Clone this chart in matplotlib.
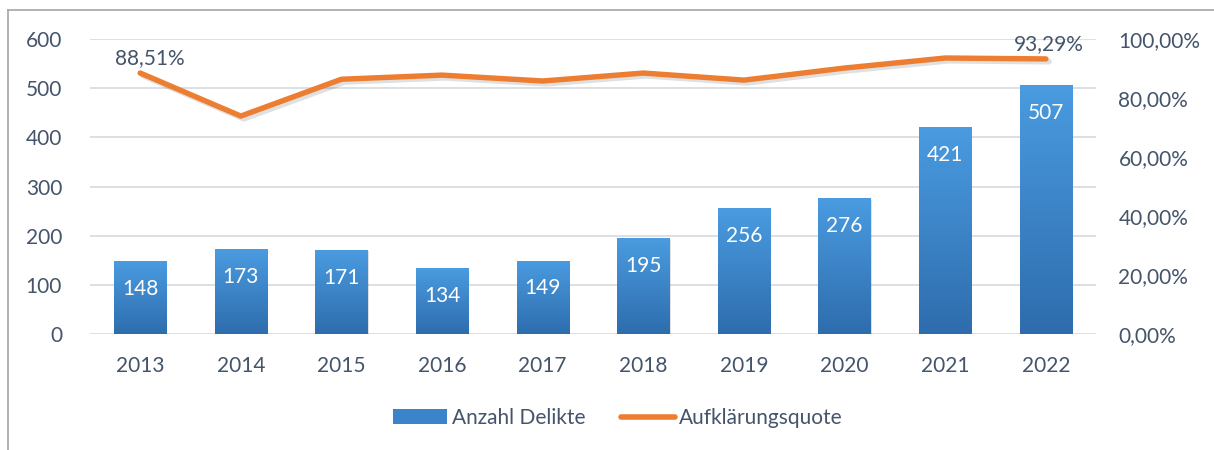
import matplotlib
matplotlib.use("Agg")
import matplotlib.pyplot as plt
import numpy as np
from matplotlib.colors import LinearSegmentedColormap
from matplotlib.patches import Patch
from matplotlib.lines import Line2D
from matplotlib.ticker import FuncFormatter, MultipleLocator

years = ["2013", "2014", "2015", "2016", "2017", "2018", "2019", "2020", "2021", "2022"]
delikte = [148, 173, 171, 134, 149, 195, 256, 276, 421, 507]
quote = [88.51, 73.9, 86.4, 87.8, 85.8, 88.5, 86.1, 90.2, 93.6, 93.29]

text_col = "#44546A"
orange = "#ED7D31"
fs = 15
plt.rcParams['font.family'] = ['Lato', 'DejaVu Sans']

fig = plt.figure(figsize=(12.14, 4.5), dpi=100)
ax = fig.add_axes([0.074, 0.258, 0.829, 0.655])
ax2 = ax.twinx()

x = np.arange(len(years))
grad = LinearSegmentedColormap.from_list("g", ["#2E6DAD", "#4A9BE0"])
bars = ax.bar(x, delikte, width=0.52, color="none", zorder=2)
for b in bars:
    x0, w, h = b.get_x(), b.get_width(), b.get_height()
    # soft shadow
    ax.add_patch(plt.Rectangle((x0 + 0.01, -3), w, h, color="#000000", alpha=0.12, zorder=1.5, lw=0))
    img = ax.imshow(np.linspace(0, 1, 100).reshape(-1, 1), cmap=grad, origin="lower",
                    extent=[x0, x0 + w, 0, h], aspect="auto", zorder=2)
    img.set_clip_path(b)

for xi, v in zip(x, delikte):
    ax.annotate(str(v), (xi, v), xytext=(0, -20), textcoords="offset points",
                ha="center", va="center", color="white", fontsize=fs, zorder=4)

ax.set_xlim(-0.5, len(years) - 0.5)
ax.set_ylim(0, 600)
ax.yaxis.set_major_locator(MultipleLocator(100))
ax.grid(axis="y", color="#D9DDE3", lw=1.3, zorder=0)
ax.set_axisbelow(True)
ax.set_xticks(x)
ax.set_xticklabels(years)
ax.tick_params(length=0, labelsize=fs, colors=text_col)
ax.tick_params(axis="x", pad=16)
ax.tick_params(axis="y", pad=20)

# line with shadow
ax2.plot(x + 0.03, np.array(quote) - 0.9, color="black", alpha=0.12, lw=4.2, solid_capstyle="round")
ax2.plot(x, quote, color=orange, lw=3.9, solid_capstyle="round", solid_joinstyle="round")
ax2.annotate("88,51%", (x[0], quote[0]), xytext=(7, 11), textcoords="offset points",
             ha="center", va="center", color=text_col, fontsize=fs)
ax2.annotate("93,29%", (x[-1], quote[-1]), xytext=(2, 11), textcoords="offset points",
             ha="center", va="center", color=text_col, fontsize=fs)
ax2.set_ylim(0, 100)
ax2.yaxis.set_major_locator(MultipleLocator(20))
ax2.yaxis.set_major_formatter(FuncFormatter(lambda v, p: f"{v:.2f}%".replace(".", ",")))
ax2.tick_params(length=0, labelsize=fs, colors=text_col, pad=16)

for a in (ax, ax2):
    for s in a.spines.values():
        s.set_visible(False)

handles = [Patch(facecolor="#3B84CA", edgecolor="none"),
           Line2D([0], [0], color=orange, lw=4, solid_capstyle="round")]
fig.legend(handles, ["Anzahl Delikte", "Aufklärungsquote"], loc="center",
           bbox_to_anchor=(0.509, 0.071), ncol=2, frameon=False, fontsize=fs,
           labelcolor=text_col, handlelength=2.6, handletextpad=0.2, columnspacing=1.7)

# outer frame (left and top)
fig.add_artist(Line2D([0.0066, 0.0066], [0, 0.978], color="#A6A6A6", lw=1.2))
fig.add_artist(Line2D([0.0066, 1], [0.978, 0.978], color="#A6A6A6", lw=1.2))

fig.savefig("out.png", dpi=100)
